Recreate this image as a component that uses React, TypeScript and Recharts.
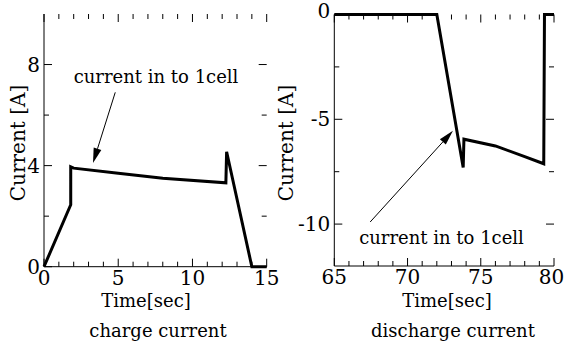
import React from 'react';
import { LineChart, Line, XAxis, YAxis, ReferenceLine, ReferenceDot } from 'recharts';

// charge panel, 0 - 15 s
const chargeTime = [0, 1.8, 1.8, 2.0, 5, 8, 12.25, 12.3, 14.0, 15];
const chargeCurrent = [0, 2.45, 3.95, 3.9, 3.7, 3.5, 3.32, 4.55, 0, 0];
const chargeTimeTicks = [0, 1, 2, 3, 4, 5, 6, 7, 8, 9, 10, 11, 12, 13, 14, 15];
const chargeTimeLabels = [0, 5, 10, 15];
const chargeCurrentTicks = [0, 2, 4, 6, 8];
const chargeCurrentLabels = [0, 4, 8];
const chargeArrow = [{ x: 4.8, y: 6.9 }, { x: 3.3, y: 4.1 }];
const chargeNote = { x: 2.0, y: 7.27 };

// discharge panel, 65 - 80 s
const dischargeTime = [65, 72, 73.8, 73.85, 76, 78, 79.3, 79.35, 80];
const dischargeCurrent = [0, 0, -7.3, -5.95, -6.27, -6.78, -7.12, 0, 0];
const dischargeTimeTicks = [65, 66, 67, 68, 69, 70, 71, 72, 73, 74, 75, 76, 77, 78, 79, 80];
const dischargeTimeLabels = [65, 70, 75, 80];
const dischargeCurrentTicks = [0, -2.5, -5, -7.5, -10];
const dischargeCurrentLabels = [0, -5, -10];
const dischargeArrow = [{ x: 67.45, y: -9.9 }, { x: 73.1, y: -5.55 }];
const dischargeNote = { x: 66.7, y: -10.95 };

const noteText = 'current in to 1cell';

const FONT = 'DejaVu Serif';
const TICK_FS = 20;
const TEXT_FS = 18;

const makeXTick = (labels: number[], top: number, bottom: number, maxX: number) => (p: any) => {
  const v = p.payload.value;
  const major = labels.includes(v);
  const len = major ? 8 : 5;
  return (
    <g>
      <line x1={p.x} x2={p.x} y1={bottom} y2={bottom - len} stroke="#000" />
      <line x1={p.x} x2={p.x} y1={top} y2={top + len} stroke="#000" />
      {major && (
        <text x={Math.min(p.x, maxX)} y={bottom + 18} textAnchor="middle" fontFamily={FONT} fontSize={TICK_FS} fill="#000">
          {v}
        </text>
      )}
    </g>
  );
};

const makeYTick = (labels: number[], left: number, right: number, topValue: number, lift: number) => (p: any) => {
  const v = p.payload.value;
  const major = labels.includes(v);
  const len = major ? 8 : 5;
  const dy = v === topValue ? lift : 0;
  return (
    <g>
      <line x1={left} x2={left + len} y1={p.y} y2={p.y} stroke="#000" />
      <line x1={right} x2={right - len} y1={p.y} y2={p.y} stroke="#000" />
      {major && (
        <text x={left - 4} y={p.y + 7 + dy} textAnchor="end" fontFamily={FONT} fontSize={TICK_FS} fill="#000">
          {v}
        </text>
      )}
    </g>
  );
};

const Arrow = (p: any) => {
  const { x1, y1, x2, y2 } = p;
  const a = Math.atan2(y2 - y1, x2 - x1);
  const c = Math.cos(a);
  const s = Math.sin(a);
  const bx = x2 - 15 * c;
  const by = y2 - 15 * s;
  return (
    <g>
      <line x1={x1} y1={y1} x2={bx} y2={by} stroke="#000" strokeWidth={1} />
      <polygon
        points={`${x2},${y2} ${bx - 4 * s},${by + 4 * c} ${bx + 4 * s},${by - 4 * c}`}
        fill="#000"
      />
    </g>
  );
};

const Note = (p: any) => (
  <text x={p.cx} y={p.cy} fontFamily={FONT} fontSize={TEXT_FS} fill="#000">
    {noteText}
  </text>
);

const bottomLabels = (cx1: number, cx2: number, sub: string) => () => (
  <g>
    <text x={cx1} y={307} textAnchor="middle" fontFamily={FONT} fontSize={TEXT_FS} fill="#000">Time[sec]</text>
    <text x={cx2} y={337} textAnchor="middle" fontFamily={FONT} fontSize={TEXT_FS} fill="#000">{sub}</text>
  </g>
);

const sideLabel = (bx: number) => () => (
  <text
    x={bx}
    y={143}
    transform={`rotate(-90, ${bx}, 143)`}
    textAnchor="middle"
    fontFamily={FONT}
    fontSize={20}
    fill="#000"
  >
    Current [A]
  </text>
);

const chargeData = chargeTime.map((t, i) => ({ time: t, current: chargeCurrent[i] }));
const dischargeData = dischargeTime.map((t, i) => ({ time: t, current: dischargeCurrent[i] }));

const App: React.FC = () => {
  return (
    <div style={{ position: 'absolute', left: 0, top: 0, width: 565, height: 349, background: '#fff' }}>
      <div style={{ position: 'absolute', left: 0, top: 0 }}>
        <LineChart width={283} height={349} data={chargeData} margin={{ top: 14, right: 16.3, bottom: 52.3, left: 0 }}>
          <XAxis
            dataKey="time"
            type="number"
            domain={[0, 15]}
            ticks={chargeTimeTicks}
            interval={0}
            height={30}
            tickLine={false}
            axisLine={{ stroke: '#000' }}
            tick={makeXTick(chargeTimeLabels, 14, 266.7, 270)}
            label={bottomLabels(146, 158, 'charge current')}
          />
          <XAxis xAxisId="top" orientation="top" type="number" domain={[0, 15]} height={0} mirror tick={false} tickLine={false} axisLine={{ stroke: '#000' }} />
          <YAxis
            type="number"
            domain={[0, 10]}
            ticks={chargeCurrentTicks}
            interval={0}
            width={44}
            tickLine={false}
            axisLine={{ stroke: '#000' }}
            tick={makeYTick(chargeCurrentLabels, 44, 266.7, 10, 0)}
            label={sideLabel(25)}
          />
          <YAxis yAxisId="right" orientation="right" type="number" domain={[0, 10]} width={0} mirror tick={false} tickLine={false} axisLine={{ stroke: '#000' }} />
          <Line type="linear" dataKey="current" stroke="#000" strokeWidth={3} dot={false} isAnimationActive={false} />
          <ReferenceLine segment={chargeArrow} shape={Arrow} ifOverflow="visible" />
          <ReferenceDot x={chargeNote.x} y={chargeNote.y} r={0} shape={Note} ifOverflow="visible" />
        </LineChart>
      </div>
      <div style={{ position: 'absolute', left: 270, top: 0 }}>
        <LineChart width={295} height={349} data={dischargeData} margin={{ top: 14.5, right: 11, bottom: 53, left: 0 }}>
          <XAxis
            dataKey="time"
            type="number"
            domain={[65, 80]}
            ticks={dischargeTimeTicks}
            interval={0}
            height={30}
            tickLine={false}
            axisLine={{ stroke: '#000' }}
            tick={makeXTick(dischargeTimeLabels, 14.5, 266, 281.5)}
            label={bottomLabels(177, 183, 'discharge current')}
          />
          <XAxis xAxisId="top" orientation="top" type="number" domain={[65, 80]} height={0} mirror tick={false} tickLine={false} axisLine={{ stroke: '#000' }} />
          <YAxis
            type="number"
            domain={[-12, 0]}
            ticks={dischargeCurrentTicks}
            interval={0}
            width={64.3}
            tickLine={false}
            axisLine={{ stroke: '#000' }}
            tick={makeYTick(dischargeCurrentLabels, 64.3, 284, 0, -4)}
            label={sideLabel(23)}
          />
          <YAxis yAxisId="right" orientation="right" type="number" domain={[-12, 0]} width={0} mirror tick={false} tickLine={false} axisLine={{ stroke: '#000' }} />
          <Line type="linear" dataKey="current" stroke="#000" strokeWidth={3} dot={false} isAnimationActive={false} />
          <ReferenceLine segment={dischargeArrow} shape={Arrow} ifOverflow="visible" />
          <ReferenceDot x={dischargeNote.x} y={dischargeNote.y} r={0} shape={Note} ifOverflow="visible" />
        </LineChart>
      </div>
    </div>
  );
};

export default App;
